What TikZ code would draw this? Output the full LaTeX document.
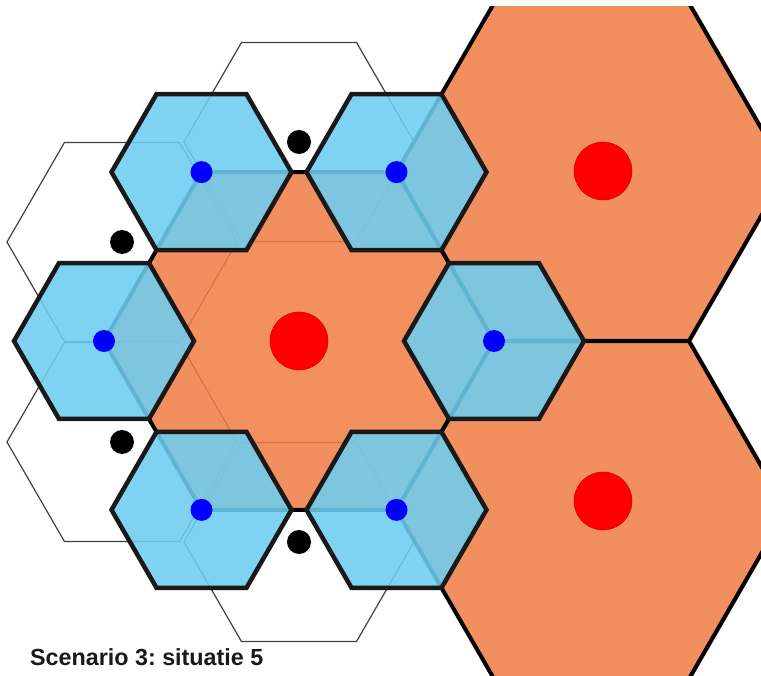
\documentclass[tikz,border=0pt]{standalone}
\usepackage{fontspec}
\setmainfont{Liberation Sans}
\usepackage{tikz}
\usetikzlibrary{shapes.geometric,shadows}

\definecolor{cellorange}{RGB}{240,124,66}
\definecolor{flatorange}{RGB}{242,143,94}
\definecolor{cellblue}{RGB}{110,205,241}

\begin{document}
\frenchspacing
\begin{tikzpicture}[x=1pt,y=-1pt,
    hexcell/.style={regular polygon,regular polygon sides=6,inner sep=0pt,outer sep=0pt},
    bigcell/.style={hexcell,minimum size=390pt,fill=cellorange,fill opacity=.85,draw=black,line width=4pt},
    outercell/.style={bigcell,fill=flatorange,fill opacity=1,
      drop shadow={shadow xshift=2.5pt,shadow yshift=0pt,fill=flatorange,opacity=1}},
    smallcell/.style={hexcell,minimum size=180pt,fill=cellblue,fill opacity=.88,draw=black!90,line width=4.5pt},
    emptycell/.style={hexcell,minimum size=230pt,fill=white,draw=black!75,line width=1.2pt},
    reddot/.style={circle,inner sep=0pt,minimum size=58pt,fill=red,draw=red!80!black,line width=.5pt},
    bluedot/.style={circle,inner sep=0pt,minimum size=22pt,fill=blue},
    blackdot/.style={circle,inner sep=0pt,minimum size=24pt,fill=black}]
   \useasboundingbox (0,0) rectangle (761,676);
   \node[emptycell] (w1) at (299,142) {};
   \node[emptycell] (w2) at (122,242) {};
   \node[emptycell] (w3) at (122,442) {};
   \node[emptycell] (w4) at (299,542) {};
   \node[bigcell] (mid) at (299,341) {};
   \begin{scope}
     \clip (0,7) rectangle (761,676);
     \node[outercell] (ne) at (591.5,172.1) {};
     \node[outercell] (se) at (591.5,509.9) {};
   \end{scope}
   \foreach \k in {1,...,6}
     \node[smallcell] (b\k) at (mid.corner \k) {};
   \foreach \k in {1,...,6}
     \node[bluedot] (bd\k) at (b\k) {};
   \foreach \k in {1,...,4}
     \node[blackdot] (wd\k) at (w\k) {};
   \node[reddot] (middot) at (mid) {};
   \node[reddot] (nedot) at (603,171) {};
   \node[reddot] (sedot) at (603,501) {};
   \node[anchor=base west,inner sep=0pt,text=black!90,font=\bfseries\fontsize{23.3}{28}\selectfont] (title) at (30,665) {Scenario 3: situatie 5};
\end{tikzpicture}
\end{document}
